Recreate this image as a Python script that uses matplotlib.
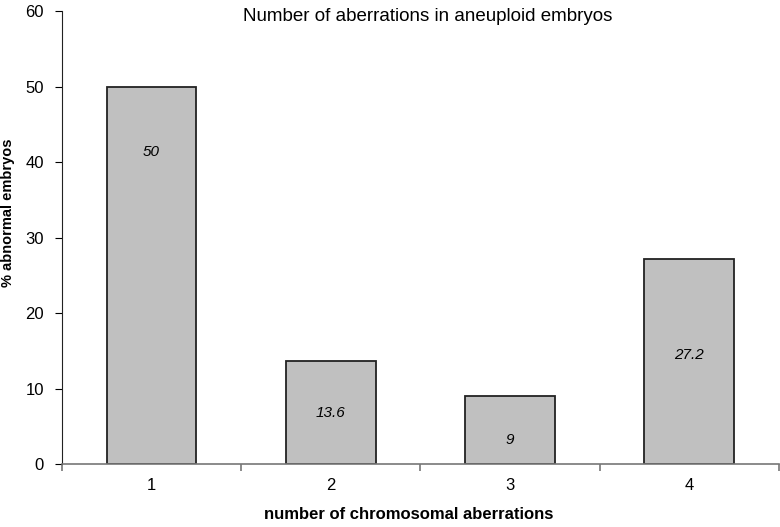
import matplotlib
matplotlib.use("Agg")
import matplotlib.pyplot as plt

categories = [1, 2, 3, 4]
percent = [50, 13.6, 9, 27.2]
bar_labels = ["50", "13.6", "9", "27.2"]
label_y = [41.3, 6.8, 3.2, 14.4]

plt.rcParams['font.family'] = ['Liberation Sans', 'DejaVu Sans']

fig = plt.figure(figsize=(7.8, 5.27), dpi=100)
ax = fig.add_axes([0.0795, 0.1195, 0.919, 0.8595])

ax.bar(categories, percent, width=0.5, color='#c0c0c0', edgecolor='#222222', lw=1.3, zorder=2)
for x, y, s in zip(categories, label_y, bar_labels):
    ax.text(x, y, s, ha='center', va='center', fontsize=11, style='italic', zorder=3)

ax.set_xlim(0.5, 4.5)
ax.set_ylim(0, 60)
ax.set_yticks(range(0, 61, 10))
ax.set_xticks(categories)
ax.set_xticks([0.5, 1.5, 2.5, 3.5, 4.5], minor=True)
ax.tick_params(axis='x', which='major', length=0, labelsize=12, pad=10)
ax.tick_params(axis='x', which='minor', length=5, color='#777777', width=1.2)
ax.tick_params(axis='y', length=5, labelsize=12, pad=8)

for side in ['top', 'right']:
    ax.spines[side].set_visible(False)
ax.spines['bottom'].set_color('#777777')
ax.spines['bottom'].set_linewidth(1.2)
ax.spines['left'].set_color('#222222')

ax.set_title('Number of aberrations in aneuploid embryos', fontsize=13.5, y=0.96, x=0.51)
ax.set_xlabel('number of chromosomal aberrations', fontsize=12, fontweight='bold')
ax.xaxis.set_label_coords(0.484, -0.094)
ax.set_ylabel('% abnormal embryos', fontsize=10.5, fontweight='bold')
ax.yaxis.set_label_coords(-0.066, 0.555)

fig.savefig('out.png', dpi=100)
